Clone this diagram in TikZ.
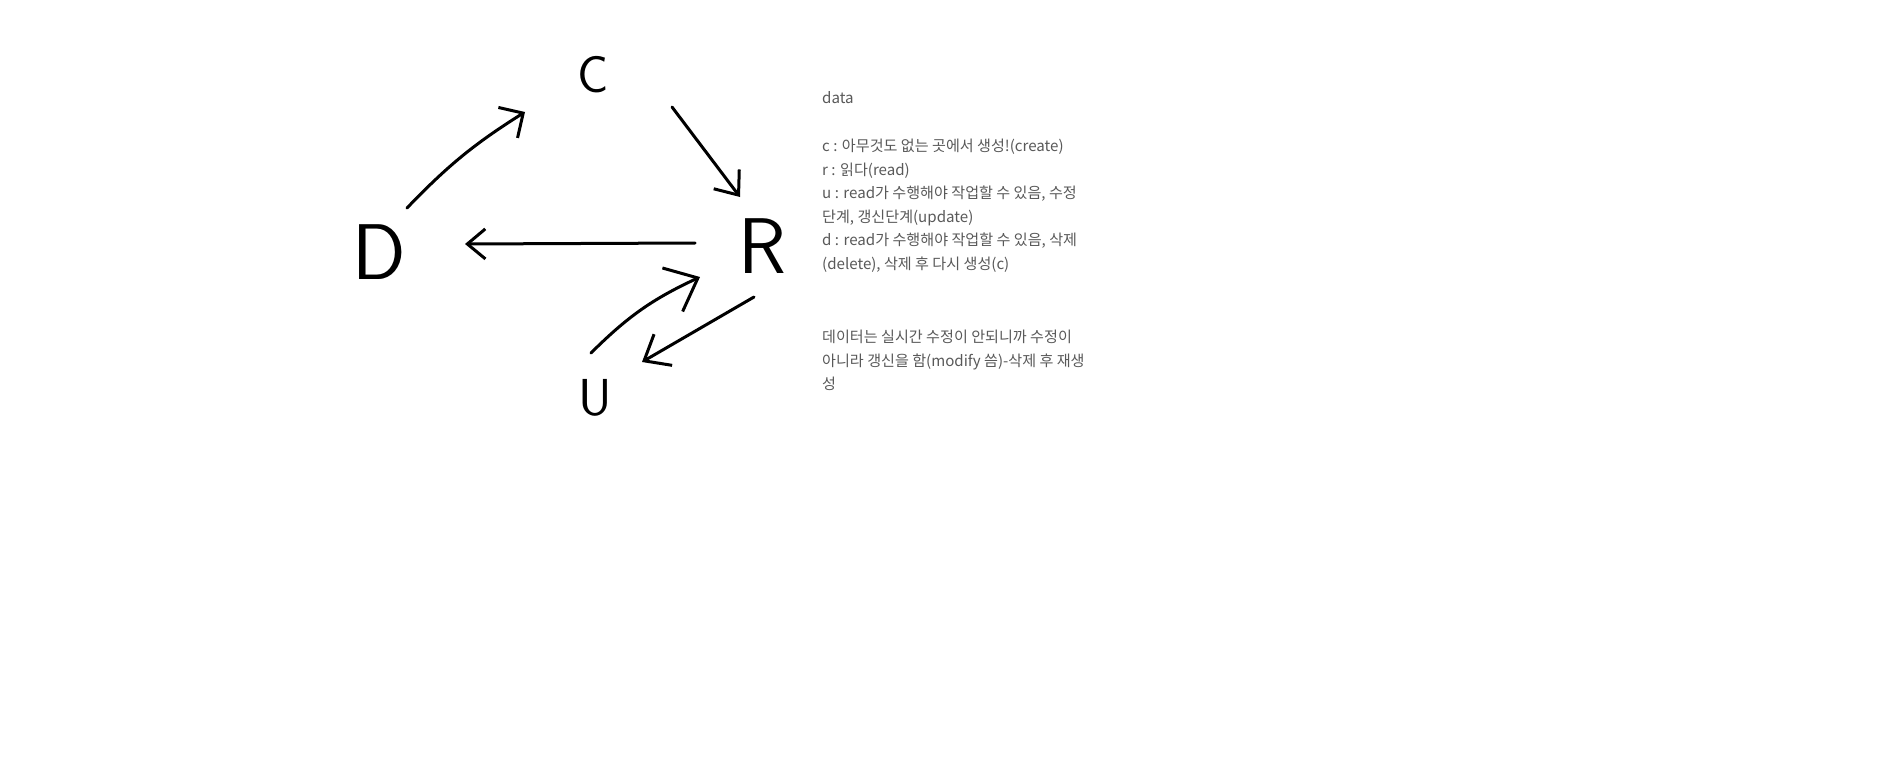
\documentclass[tikz,border=0pt]{standalone}
\usepackage{fontspec}
\newfontfamily\kr{Noto Sans CJK KR}
\usetikzlibrary{arrows.meta,calc}
\begin{document}
\begin{tikzpicture}[x=1pt,y=-1pt,
  hand/.style={line width=3pt, line cap=round, line join=round},
  letter/.style={inner sep=0pt, text=black},
  bigletter/.style={letter, font=\sffamily\fontsize{79}{79}\selectfont},
  smallletter/.style={letter, font=\sffamily\fontsize{52}{52}\selectfont},
  txt/.style={font=\kr\fontsize{15.1}{16}\selectfont, text=gray!70!black, anchor=base west, inner sep=0pt},
]
\path[fill=white, use as bounding box] (0,0) rectangle (1895,771);

% letters
\node[smallletter] (C) at (593,75) {C};
\node[bigletter] (D) at (379,252) {D};
\node[bigletter] (R) at (762,246) {R};
\node[smallletter] (U) at (595,398) {U};

% connectors
\draw[hand, -{Straight Barb[length=18pt,width=36pt]}]
  ($(D)+(28,-44)$) to[bend left=7] ($(C)+(-68,37)$);
\draw[hand, -{Straight Barb[length=20pt,width=32pt]}]
  ($(C)+(79,32)$) -- ($(R)+(-22,-49)$);
\draw[hand, -{Straight Barb[length=18pt,width=30pt]}]
  ($(R)+(-67,-3)$) -- ($(D)+(86,-8)$);
\draw[hand, -{Straight Barb[length=22pt,width=36pt]}]
  ($(R)+(-8,51)$) -- ($(U)+(47,-36)$);
\draw[hand, -{Straight Barb[length=28pt,width=48pt]}]
  ($(U)+(-4,-45)$) to[bend left=10] ($(R)+(-62,31)$);

% text
\node[txt] (t1) at (822,103) {data};
\node[txt] (t2) at (822,151.5) {c : 아무것도 없는 곳에서 생성!(create)};
\node[txt] (t3) at (822,175) {r : 읽다(read)};
\node[txt] (t4) at (822,198.5) {u : read가 수행해야 작업할 수 있음, 수정};
\node[txt] (t5) at (822,222) {단계, 갱신단계(update)};
\node[txt] (t6) at (822,245.5) {d : read가 수행해야 작업할 수 있음, 삭제};
\node[txt] (t7) at (822,269) {(delete), 삭제 후 다시 생성(c)};
\node[txt] (t8) at (822,342.5) {데이터는 실시간 수정이 안되니까 수정이};
\node[txt] (t9) at (822,366) {아니라 갱신을 함(modify 씀)-삭제 후 재생};
\node[txt] (t10) at (822,389.5) {성};
\end{tikzpicture}
\end{document}
